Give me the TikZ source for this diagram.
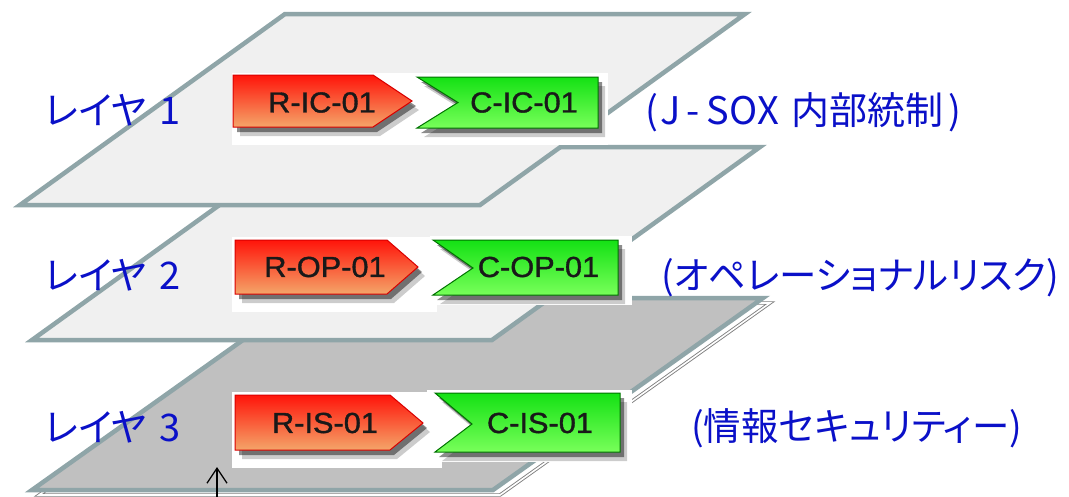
\documentclass[tikz,border=0pt]{standalone}
\usepackage{fontspec}
\newfontfamily\jp[RawFeature=+palt]{Noto Sans CJK JP}
\newfontfamily\lat[FakeBold=1.2]{Liberation Sans}
\usetikzlibrary{arrows.meta}
\definecolor{edgec}{RGB}{143,165,168}
\definecolor{litec}{RGB}{240,240,240}
\definecolor{darkc}{RGB}{192,192,192}
\definecolor{lblue}{RGB}{10,16,200}
\definecolor{rtop}{RGB}{255,20,10}
\definecolor{rmid}{RGB}{246,105,60}
\definecolor{rbot}{RGB}{244,165,105}
\definecolor{gtop}{RGB}{20,225,20}
\definecolor{gbot}{RGB}{120,255,90}
\begin{document}
\begin{tikzpicture}[x=1pt,y=-1pt,
  layerbox/.style={draw=edgec, line width=4.5pt, line join=miter},
  lbl/.style={text=lblue, font=\jp\fontsize{38}{40}\selectfont, inner sep=0pt, anchor=base west},
  ctext/.style={font=\lat\fontsize{29}{30}\selectfont, inner sep=0pt, xscale=1.06, text=black!90},
  redc/.style={top color=rtop, middle color=rmid, bottom color=rbot, draw=red!85!black, line width=1pt, line join=miter},
  greenc/.style={top color=gtop, bottom color=gbot, draw=green!45!black, line width=1pt, line join=miter},
  shad/.style={fill=black, opacity=0.45},
  shadb/.style={fill=black, opacity=0.2},
  imgbg/.style={fill=white}
]
\useasboundingbox (0,0) rectangle (1069,496);
\fill[white] (0,0) rectangle (1069,496);

% layer 3 thickness outline
\draw[draw=gray, double=white, line width=0.9pt, double distance=1.6pt, fill=white, line join=miter]
  (309,303) -- (770,303) -- (500,495) -- (39,495) -- cycle;
% layers
\draw[layerbox, fill=darkc] (302,298) -- (763,298) -- (493,490) -- (32,490) -- cycle;
\draw[layerbox, fill=litec] (300,147) -- (760,147) -- (492,340) -- (32,340) -- cycle;
\draw[layerbox, fill=litec] (285,14) -- (745,14) -- (480,205) -- (20,205) -- cycle;

% image backgrounds
\fill[imgbg] (232,73) rectangle (608,145);
\fill[imgbg] (232,237) rectangle (437,312);
\fill[imgbg] (430,236) rectangle (632,305);
\fill[imgbg] (232,392) rectangle (442,468);
\fill[imgbg] (427,390) rectangle (632,462);

% layer 1 chevrons
\fill[shadb] (240,84) -- (380,84) -- (419,110) -- (380,136) -- (240,136) -- cycle;
\fill[shad]  (237,80) -- (377,80) -- (416,106) -- (377,132) -- (237,132) -- cycle;
\path[redc] (233,75) -- (373,75) -- (412,101) -- (373,127) -- (233,127) -- cycle;
\fill[shadb] (424,86) -- (605,86) -- (605,137) -- (424,137) -- (465,111.5) -- cycle;
\fill[shad]  (421,82) -- (602,82) -- (602,133) -- (421,133) -- (462,107.5) -- cycle;
\path[greenc] (417,77) -- (598,77) -- (598,128) -- (417,128) -- (458,102.5) -- cycle;
\node[ctext] (r1) at (322,102.5) {R-IC-01};
\node[ctext] (c1) at (524,102.5) {C-IC-01};

% layer 2 chevrons
\fill[shadb] (242,249) -- (394,249) -- (425,276) -- (394,303) -- (242,303) -- cycle;
\fill[shad]  (239,245) -- (391,245) -- (422,272) -- (391,299) -- (239,299) -- cycle;
\path[redc] (235,240) -- (387,240) -- (418,267) -- (387,294) -- (235,294) -- cycle;
\fill[shadb] (440,249) -- (625,249) -- (625,304) -- (440,304) -- (480,277) -- cycle;
\fill[shad]  (437,245) -- (622,245) -- (622,300) -- (437,300) -- (477,273) -- cycle;
\path[greenc] (433,240) -- (618,240) -- (618,295) -- (433,295) -- (473,268) -- cycle;
\node[ctext] (r2) at (325,267) {R-OP-01};
\node[ctext] (c2) at (538.5,267) {C-OP-01};

% layer 3 chevrons
\fill[shadb] (242,404) -- (397,404) -- (430,432) -- (397,459) -- (242,459) -- cycle;
\fill[shad]  (239,400) -- (394,400) -- (427,428) -- (394,455) -- (239,455) -- cycle;
\path[redc] (235,395) -- (390,395) -- (423,423) -- (390,450) -- (235,450) -- cycle;
\fill[shadb] (442,402) -- (627,402) -- (627,461) -- (442,461) -- (479,433) -- cycle;
\fill[shad]  (439,398) -- (624,398) -- (624,457) -- (439,457) -- (476,429) -- cycle;
\path[greenc] (435,393) -- (620,393) -- (620,452) -- (435,452) -- (472,424) -- cycle;
\node[ctext] (r3) at (325,423) {R-IS-01};
\node[ctext] (c3) at (540,423) {C-IS-01};

% left labels
\node[lbl] (l1) at (45,124) {レイヤ\hspace{13pt}1};
\node[lbl] (l2) at (45,289) {レイヤ\hspace{13pt}2};
\node[lbl] (l3) at (45,441) {レイヤ\hspace{13pt}3};

% right labels
\node[lbl] (t1) at (645,124) {\makebox[14pt]{(}\makebox[22pt]{J}\makebox[24pt]{-}\makebox[25pt]{S}\makebox[27pt]{O}\makebox[22pt]{X}\hspace{12pt}内部統制\hspace{5pt})};
\node[lbl, xscale=0.985] (t2) at (661,289) {(オペレーショナルリスク)};
\node[lbl, xscale=0.985] (t3) at (691,440) {(情報セキュリティー)};

% arrow
\coordinate (abot) at (217,497);
\coordinate (atip) at (217,467);
\draw[-{Straight Barb[length=15pt,width=20pt]}, line width=1.3pt] (abot) -- (atip);
\end{tikzpicture}
\end{document}
